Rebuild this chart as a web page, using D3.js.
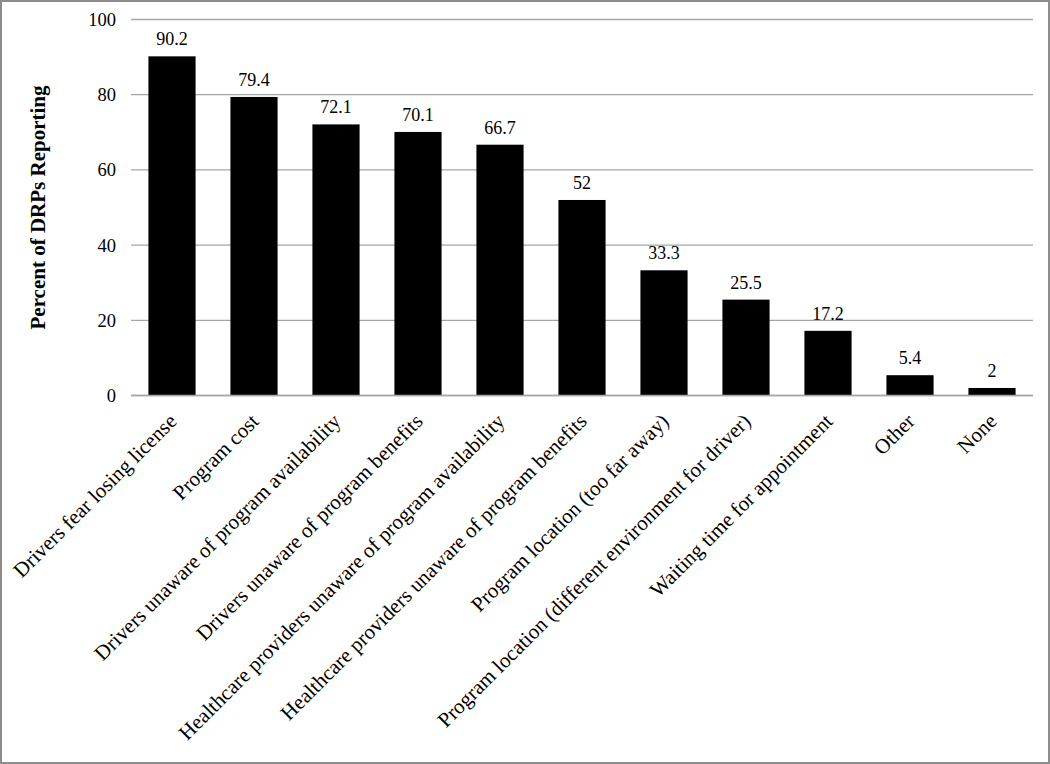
<!DOCTYPE html>
<html>
<head>
<meta charset="utf-8">
<script src="https://cdn.jsdelivr.net/npm/d3@7"></script>
<style>
  body { margin: 0; background: #fff; }
  svg { display: block; font-family: "Liberation Serif", "Times New Roman", serif; }
</style>
</head>
<body>
<svg id="chart"></svg>
<script>
const categories = [
  "Drivers fear losing license",
  "Program cost",
  "Drivers unaware of program availability",
  "Drivers unaware of program benefits",
  "Healthcare providers unaware of program availability",
  "Healthcare providers unaware of program benefits",
  "Program location (too far away)",
  "Program location (different environment for driver)",
  "Waiting time for appointment",
  "Other",
  "None"
];
const values = [90.2, 79.4, 72.1, 70.1, 66.7, 52, 33.3, 25.5, 17.2, 5.4, 2];
const yTicks = [0, 20, 40, 60, 80, 100];

const width = 1050;
const height = 764;
const plotLeft = 131, plotRight = 1033, plotTop = 19.5, plotBottom = 395.5;
const serif = "'Liberation Serif', 'Times New Roman', serif";

let svg = d3.select("#chart")
  .attr("width", width)
  .attr("height", height);

// outer frame
svg.append("rect")
  .attr("x", 1).attr("y", 1)
  .attr("width", width - 2).attr("height", height - 2)
  .attr("fill", "#fff")
  .attr("stroke", "#8c8c8c")
  .attr("stroke-width", 2);

let xScale = d3.scaleBand()
  .domain(categories)
  .range([plotLeft, plotRight])
  .paddingInner(0.425)
  .paddingOuter(0.2125);

let yScale = d3.scaleLinear()
  .domain([0, 100])
  .range([plotBottom, plotTop]);

// gridlines
svg.append("g")
  .selectAll("line")
  .data(yTicks)
  .enter()
  .append("line")
  .attr("x1", plotLeft)
  .attr("x2", plotRight)
  .attr("y1", d => yScale(d))
  .attr("y2", d => yScale(d))
  .attr("stroke", "#a6a6a6")
  .attr("stroke-width", 1.3);

// y axis labels
let yAxis = d3.axisLeft(yScale).tickValues(yTicks).tickSize(0).tickPadding(15);
let yg = svg.append("g")
  .attr("transform", "translate(" + plotLeft + ",0)")
  .call(yAxis)
  .attr("font-family", serif);
yg.select(".domain").remove();
yg.selectAll("text")
  .attr("font-family", serif)
  .attr("font-size", 18.5)
  .attr("fill", "#000");

// bars
svg.selectAll("rect.bar")
  .data(values)
  .enter()
  .append("rect")
  .attr("class", "bar")
  .attr("x", (d, i) => xScale(categories[i]))
  .attr("y", d => yScale(d))
  .attr("width", xScale.bandwidth())
  .attr("height", d => plotBottom - yScale(d))
  .attr("fill", "#000");

// value labels
svg.selectAll("text.val")
  .data(values)
  .enter()
  .append("text")
  .attr("class", "val")
  .attr("x", (d, i) => xScale(categories[i]) + xScale.bandwidth() / 2)
  .attr("y", d => yScale(d) - 11)
  .attr("text-anchor", "middle")
  .attr("font-family", serif)
  .attr("font-size", 18)
  .text(d => d);

// x axis labels, rotated
let xAxis = d3.axisBottom(xScale).tickSize(0).tickPadding(0);
let xg = svg.append("g")
  .attr("transform", "translate(0," + plotBottom + ")")
  .call(xAxis)
  .attr("font-family", serif);
xg.select(".domain").remove();
xg.selectAll("text")
  .attr("font-family", serif)
  .attr("font-size", 21)
  .attr("fill", "#000")
  .attr("text-anchor", "end")
  .attr("dy", 0)
  .attr("y", 0)
  .attr("transform", "translate(6,27) rotate(-45)");

// axis line at zero drawn over bars
svg.append("line")
  .attr("x1", plotLeft).attr("x2", plotRight)
  .attr("y1", plotBottom).attr("y2", plotBottom)
  .attr("stroke", "#a6a6a6")
  .attr("stroke-width", 1.3);

// y title
svg.append("text")
  .attr("transform", "translate(45," + ((plotTop + plotBottom) / 2) + ") rotate(-90)")
  .attr("text-anchor", "middle")
  .attr("font-family", serif)
  .attr("font-weight", "bold")
  .attr("font-size", 21)
  .text("Percent of DRPs Reporting");
</script>
</body>
</html>
